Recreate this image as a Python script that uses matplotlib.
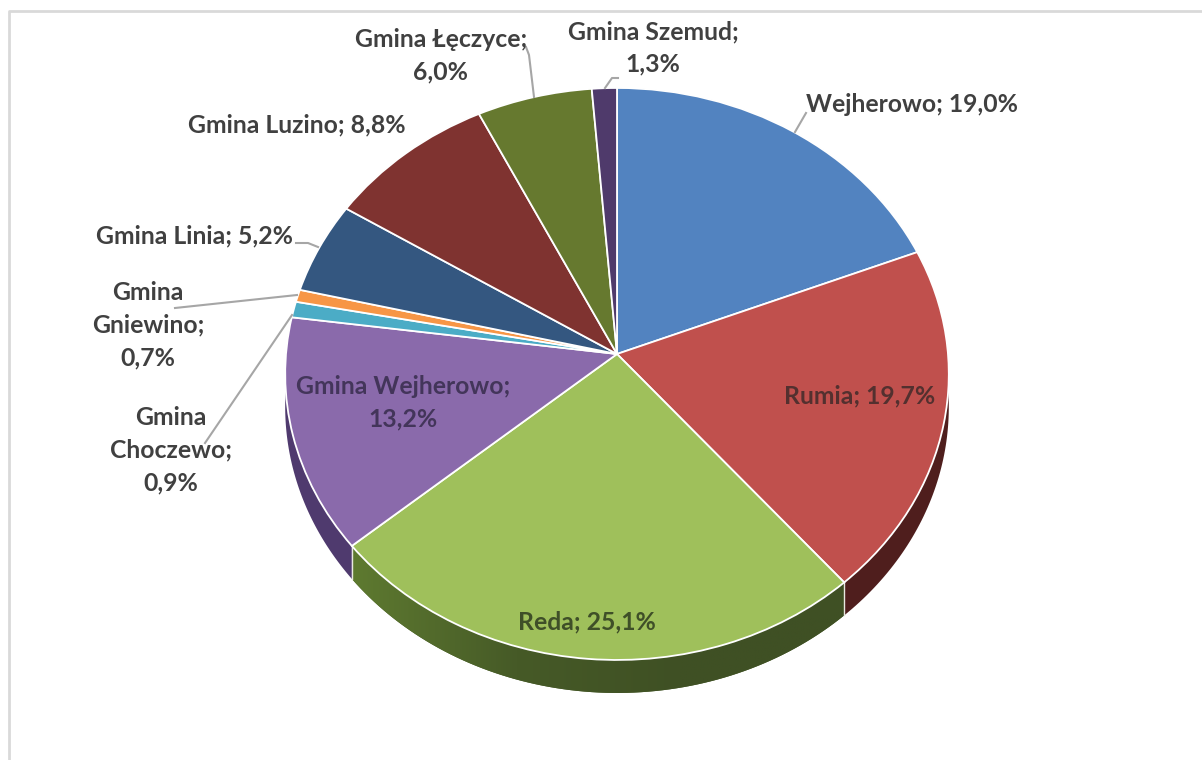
import numpy as np
import matplotlib
matplotlib.use('Agg')
import matplotlib.pyplot as plt
from matplotlib.colors import LinearSegmentedColormap
from matplotlib.transforms import Transform

# dane
names = ['Wejherowo', 'Rumia', 'Reda', 'Gmina Wejherowo', 'Gmina Choczewo', 'Gmina Gniewino',
         'Gmina Linia', 'Gmina Luzino', 'Gmina Łęczyce', 'Gmina Szemud']
values = [19.0, 19.7, 25.1, 13.2, 0.9, 0.7, 5.2, 8.8, 6.0, 1.3]
colors = ['#5283c0', '#c0504d', '#9fc05b', '#8a6aab', '#4bacc6', '#f79646',
          '#345780', '#7f3330', '#66792f', '#4f3a6b']
wall_colors = ['#2f4d72', '#4f1e1d', '#465a27', '#4f3a6e', '#2c6678', '#94592a',
               '#1f344c', '#4c1e1d', '#3d481c', '#2f2340']

# kawalki tekstu: (srodek x, srodek y, tekst, kolor)
label_text = {
    'Wejherowo': (912, 104, 'Wejherowo; {}', '#404040'),
    'Rumia': (860, 396, 'Rumia; {}', '#53302f'),
    'Reda': (587, 622, 'Reda; {}', '#3f4f28'),
    'Gmina Wejherowo': (403, 403, 'Gmina Wejherowo;\n{}', '#43355a'),
    'Gmina Choczewo': (171, 450, 'Gmina\nChoczewo;\n{}', '#404040'),
    'Gmina Gniewino': (148, 325, 'Gmina\nGniewino;\n{}', '#404040'),
    'Gmina Linia': (194, 236, 'Gmina Linia; {}', '#404040'),
    'Gmina Luzino': (297, 125, 'Gmina Luzino; {}', '#404040'),
    'Gmina Łęczyce': (441, 56, 'Gmina Łęczyce;\n{}', '#404040'),
    'Gmina Szemud': (653, 48, 'Gmina Szemud;\n{}', '#404040'),
}

leaders = [
    ([795, 806], [132, 113]),
    ([534, 529, 526], [97, 55, 47]),
    ([605, 612, 618], [88, 78, 78]),
    ([318, 308, 296], [247, 243, 243]),
    ([297, 175], [295, 308]),
    ([292, 205], [315, 443]),
]

APEX_X, APEX_Y = 617, 354
RX, RY, K = 331.0, 284.6, 0.0698
DEPTH = 33


class TiltTransform(Transform):
    """kolo jednostkowe -> pochylony dysk (perspektywa jak w wykresie 3D)"""
    input_dims = 2
    output_dims = 2
    is_separable = False

    def transform_non_affine(self, xy):
        xy = np.asarray(xy, dtype=float)
        d = 1 + K * xy[:, 1]
        return np.column_stack((APEX_X + RX * xy[:, 0] / d, APEX_Y - RY * xy[:, 1] / d))


tilt = TiltTransform()

fig = plt.figure(figsize=(12.02, 7.6), dpi=100, facecolor='white')
ax = fig.add_axes([0, 0, 1, 1])

wedges, _ = ax.pie(values, colors=colors, startangle=90, counterclock=False,
                   wedgeprops={'edgecolor': 'white', 'linewidth': 1.3, 'zorder': 5})
for w in wedges:
    w.set_transform(tilt + ax.transData)

ax.set_aspect('auto')
ax.set_xlim(0, 1202)
ax.set_ylim(760, 0)
ax.axis('off')

# ramka
ax.plot([8.5, 8.5, 1202], [760, 10.5, 10.5], color='#d9d9d9', lw=2, zorder=1)

# scianki boczne
fronts = np.cumsum([0] + values) / sum(values) * 2 * np.pi
for i, w in enumerate(wedges):
    a = np.linspace(fronts[i], fronts[i + 1], 80)
    rim = tilt.transform(np.column_stack((np.sin(a), np.cos(a))))
    low = rim + [0, DEPTH]
    px = np.r_[rim[:, 0], low[::-1, 0]]
    py = np.r_[rim[:, 1], low[::-1, 1]]
    poly = ax.fill(px, py, color=wall_colors[i], lw=0, zorder=3)[0]
    if names[i] == 'Reda':
        cmap = LinearSegmentedColormap.from_list('reda', ['#5e7a30', '#465a27', '#3f5024', '#3f5024'])
        im = ax.imshow(np.linspace(0, 1, 256)[None, :], cmap=cmap, aspect='auto', zorder=3.5,
                       extent=(px.min(), px.max(), py.max(), py.min()))
        im.set_clip_path(poly)
        # szwy miedzy sciankami
        ax.plot([low[0, 0], rim[0, 0]], [low[0, 1], rim[0, 1]], color='#e8e8e0', lw=1, zorder=4)
        ax.plot([low[-1, 0], rim[-1, 0]], [low[-1, 1], rim[-1, 1]], color='#e8e8e0', lw=1, zorder=4)

ax.set_xlim(0, 1202)
ax.set_ylim(760, 0)

for lx, ly in leaders:
    ax.plot(lx, ly, color='#a6a6a6', lw=1.5, zorder=6)

for name, val in zip(names, values):
    x, y, txt, col = label_text[name]
    val_str = f'{val:.1f}%'.replace('.', ',')
    ax.text(x, y, txt.format(val_str), ha='center', va='center', fontsize=17.8, fontweight='bold',
            family='Lato', color=col, linespacing=1.5, zorder=7)

fig.savefig('out.png', dpi=100)
